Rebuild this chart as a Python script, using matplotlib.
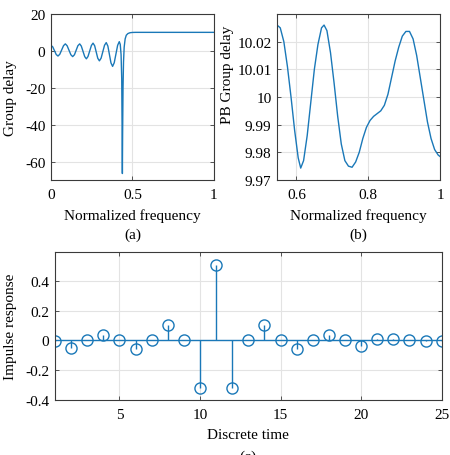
import matplotlib
matplotlib.use("Agg")
import matplotlib.pyplot as plt

plt.rcParams['font.family'] = ['Liberation Serif', 'DejaVu Serif']
plt.rcParams['font.size'] = 11
plt.rcParams['axes.unicode_minus'] = False

# (a) group delay over the whole band
freq_a = [0.0, 0.011, 0.0215, 0.032, 0.043, 0.054, 0.0655, 0.077, 0.088, 0.099,
          0.1105, 0.122, 0.133, 0.144, 0.1545, 0.165, 0.176, 0.186, 0.1965, 0.207,
          0.217, 0.227, 0.2375, 0.248, 0.258, 0.268, 0.2775, 0.287, 0.297, 0.3075,
          0.318, 0.3285, 0.339, 0.349, 0.3585, 0.368, 0.378, 0.388, 0.3985, 0.409,
          0.419, 0.425, 0.430, 0.434, 0.4365, 0.438, 0.4395, 0.442, 0.445, 0.449,
          0.455, 0.462, 0.472, 0.485, 0.5, 0.52, 1.0]
gd_a = [3.0, 2.15, 0.1, -1.95, -2.8, -1.83, 0.5, 2.83, 3.8, 2.79,
        0.35, -2.09, -3.1, -2.09, 0.35, 2.79, 3.8, 2.61, -0.25, -3.11,
        -4.3, -3.05, -0.05, 2.95, 4.2, 2.79, -0.6, -3.99, -5.4, -3.95,
        -0.45, 3.05, 4.5, 2.61, -1.95, -6.51, -8.4, -6.44, -1.7, 3.04,
        5.0, 3.5, -2.0, -15.0, -45.0, -66.5, -45.0, -20.0, -6.0, 2.0,
        6.5, 8.5, 9.4, 9.85, 10.0, 10.05, 10.05]

# (b) group delay in the pass band
freq_b = [0.546, 0.555, 0.565, 0.575, 0.585, 0.595, 0.605, 0.612, 0.620, 0.630,
          0.640, 0.650, 0.660, 0.670, 0.677, 0.685, 0.695, 0.705, 0.715, 0.725,
          0.735, 0.745, 0.755, 0.765, 0.775, 0.785, 0.795, 0.805, 0.815, 0.825,
          0.835, 0.845, 0.855, 0.865, 0.875, 0.885, 0.895, 0.905, 0.915, 0.925,
          0.935, 0.945, 0.955, 0.965, 0.975, 0.985, 0.995, 1.0]
gd_b = [10.026, 10.025, 10.020, 10.011, 10.000, 9.988, 9.978, 9.9743, 9.977, 9.986,
        9.998, 10.010, 10.019, 10.025, 10.026, 10.024, 10.016, 10.005, 9.993, 9.983,
        9.977, 9.975, 9.9746, 9.9765, 9.980, 9.985, 9.989, 9.9915, 9.993, 9.994,
        9.995, 9.997, 10.001, 10.007, 10.013, 10.018, 10.022, 10.0237, 10.0237, 10.021,
        10.015, 10.007, 9.999, 9.991, 9.985, 9.981, 9.979, 9.9785]

# (c) impulse response
n = list(range(1, 26))
h = [-0.006, -0.052, 0.0, 0.036, 0.0, -0.059, 0.0, 0.103, 0.0, -0.32,
     0.509, -0.32, 0.0, 0.103, 0.0, -0.059, 0.0, 0.036, 0.0, -0.036,
     0.013, 0.013, 0.0, -0.005, -0.003]

blue = '#1a78b8'
grid_col = '#e3e3e3'
spine_col = '#3a3a3a'


def estilo(ax):
    ax.grid(True, color=grid_col, linewidth=0.8)
    ax.set_axisbelow(True)
    for s in ax.spines.values():
        s.set_color(spine_col)
        s.set_linewidth(0.8)
    ax.tick_params(direction='in', length=3, width=0.6, color=spine_col,
                   top=True, right=True, labelsize=11)
    ax.tick_params(axis='x', pad=6)
    ax.tick_params(axis='y', pad=4)


fig = plt.figure(figsize=(4.5, 4.56), dpi=100)

ax1 = fig.add_axes([0.1133, 0.6031, 0.3622, 0.364])
ax1.plot(freq_a, gd_a, color=blue, linewidth=1.0)
ax1.set_xlim(0, 1)
ax1.set_ylim(-70, 20)
ax1.set_xticks([0, 0.5, 1])
ax1.set_xticklabels(['0', '0.5', '1'])
ax1.set_yticks([-60, -40, -20, 0, 20])
ax1.set_xlabel('Normalized frequency')
ax1.set_ylabel('Group delay')
ax1.xaxis.set_label_coords(0.5, -0.169)
ax1.yaxis.set_label_coords(-0.209, 0.5)
estilo(ax1)

ax2 = fig.add_axes([0.6156, 0.6031, 0.3622, 0.364])
ax2.plot(freq_b, gd_b, color=blue, linewidth=1.0)
ax2.set_xlim(0.546, 1)
ax2.set_ylim(9.97, 10.03)
ax2.set_xticks([0.6, 0.8, 1])
ax2.set_xticklabels(['0.6', '0.8', '1'])
ax2.set_yticks([9.97, 9.98, 9.99, 10.0, 10.01, 10.02])
ax2.set_yticklabels(['9.97', '9.98', '9.99', '10', '10.01', '10.02'])
ax2.set_xlabel('Normalized frequency')
ax2.set_ylabel('PB Group delay')
ax2.xaxis.set_label_coords(0.5, -0.169)
ax2.yaxis.set_label_coords(-0.264, 0.64)
estilo(ax2)

ax3 = fig.add_axes([0.1222, 0.1213, 0.8593, 0.3246])
markers, stems, base = ax3.stem(n, h)
plt.setp(markers, marker='o', markersize=8, markerfacecolor='none',
         markeredgecolor=blue, markeredgewidth=1.0)
plt.setp(stems, color=blue, linewidth=1.0)
plt.setp(base, color=blue, linewidth=1.0)
ax3.set_xlim(1, 25)
ax3.set_ylim(-0.4, 0.6)
ax3.set_xticks([5, 10, 15, 20, 25])
ax3.set_yticks([-0.4, -0.2, 0, 0.2, 0.4])
ax3.set_yticklabels(['-0.4', '-0.2', '0', '0.2', '0.4'])
ax3.set_xlabel('Discrete time')
ax3.set_ylabel('Impulse response')
ax3.xaxis.set_label_coords(0.5, -0.19)
ax3.yaxis.set_label_coords(-0.098, 0.5)
estilo(ax3)

# sub figure tags
fig.text(0.2944, 0.4846, '(a)', ha='center', va='center', fontsize=11)
fig.text(0.7967, 0.4846, '(b)', ha='center', va='center', fontsize=11)
fig.text(0.5518, 0.0116, '(c)', ha='center', va='top', fontsize=11)

plt.savefig('out.png', dpi=100)
